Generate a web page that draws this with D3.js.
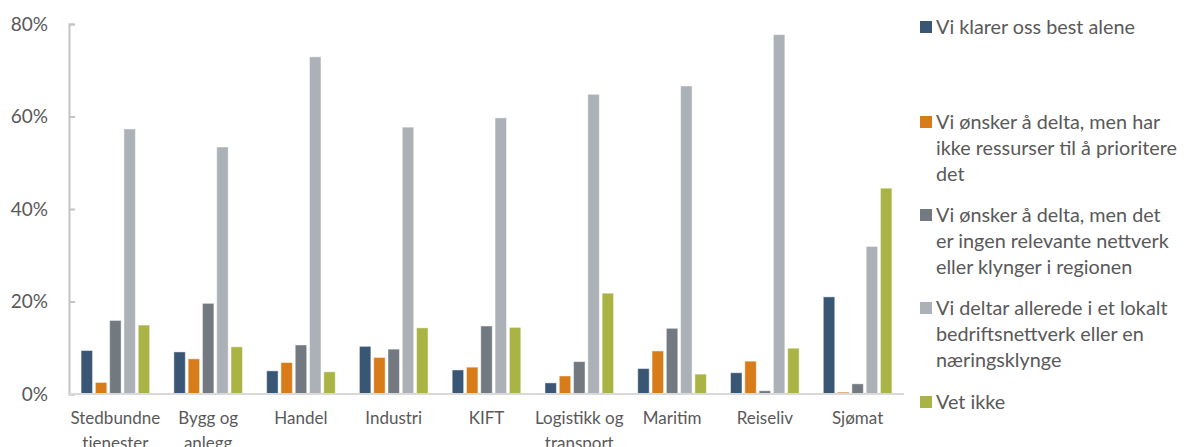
<!DOCTYPE html>
<html>
<head>
<meta charset="utf-8">
<script src="https://cdn.jsdelivr.net/npm/d3@7"></script>
<style>
  html, body { margin: 0; padding: 0; background: #fff; }
  svg { display: block; font-family: Lato, "Open Sans", sans-serif; }
</style>
</head>
<body>
<svg id="chart" width="1184" height="447"></svg>
<script>
// Sector labels (each entry is the list of wrapped lines)
const categories = [
  ["Stedbundne", "tjenester"],
  ["Bygg og", "anlegg"],
  ["Handel"],
  ["Industri"],
  ["KIFT"],
  ["Logistikk og", "transport"],
  ["Maritim"],
  ["Reiseliv"],
  ["Sjømat"]
];

// Answer alternatives, wrapped as in the legend
const seriesNames = [
  ["Vi klarer oss best alene"],
  ["Vi ønsker å delta, men har", "ikke ressurser til å prioritere", "det"],
  ["Vi ønsker å delta, men det", "er ingen relevante nettverk", "eller klynger i regionen"],
  ["Vi deltar allerede i et lokalt", "bedriftsnettverk eller en", "næringsklynge"],
  ["Vet ikke"]
];

const seriesColors = ["#3a5675", "#d87c1a", "#727981", "#abb1b7", "#a9b444"];

// Share of answers (%) per sector, one array per answer alternative
const aloneValues     = [9.4, 9.1, 5.0, 10.3, 5.2, 2.4, 5.5, 4.6, 21.0];
const noResources     = [2.5, 7.6, 6.8, 7.9, 5.8, 3.9, 9.3, 7.1, 0.4];
const noNetwork       = [15.9, 19.6, 10.6, 9.7, 14.7, 7.0, 14.2, 0.7, 2.2];
const alreadyMember   = [57.3, 53.4, 72.9, 57.7, 59.7, 64.8, 66.6, 77.7, 31.9];
const dontKnow        = [14.9, 10.2, 4.8, 14.3, 14.4, 21.8, 4.3, 9.9, 44.5];
const seriesValues = [aloneValues, noResources, noNetwork, alreadyMember, dontKnow];

const yTicks = [0, 20, 40, 60, 80];

const svg = d3.select("#chart");
const plotLeft = 69, plotRight = 904, plotTop = 24, plotBottom = 394;
const textColor = "#595959";

const y = d3.scaleLinear().domain([0, 80]).range([plotBottom, plotTop]);
const catIdx = d3.range(categories.length);
const x0 = d3.scaleBand().domain(catIdx).range([plotLeft, plotRight])
  .paddingInner(0.23).paddingOuter(0.115);
const x1 = d3.scaleBand().domain(d3.range(seriesValues.length))
  .range([0, x0.bandwidth()]).paddingInner(0.2).paddingOuter(0.1);

// Bars
const groups = svg.append("g").selectAll("g")
  .data(catIdx).join("g")
  .attr("transform", i => `translate(${x0(i)},0)`);

groups.selectAll("rect")
  .data(i => seriesValues.map((vals, s) => ({ s, v: vals[i] })))
  .join("rect")
  .attr("x", d => x1(d.s))
  .attr("width", x1.bandwidth())
  .attr("y", d => y(d.v))
  .attr("height", d => plotBottom - y(d.v))
  .attr("fill", d => seriesColors[d.s])
  .attr("stroke", "rgba(255,255,255,0.45)")
  .attr("stroke-width", 1);

// Y axis
const yAxis = d3.axisRight(y).tickValues(yTicks).tickSize(6).tickFormat("");
const yg = svg.append("g").attr("transform", `translate(${plotLeft},0)`).call(yAxis);
yg.select(".domain").attr("stroke", "#c3c3c3").attr("stroke-width", 2);
yg.selectAll(".tick line").attr("stroke", "#c3c3c3").attr("stroke-width", 2);

svg.append("g").selectAll("text")
  .data(yTicks).join("text")
  .attr("x", 48).attr("y", d => y(d))
  .attr("dy", "0.35em")
  .attr("text-anchor", "end")
  .attr("fill", textColor)
  .attr("font-size", 19)
  .text(d => d + "%");

// X axis baseline
svg.append("line")
  .attr("x1", plotLeft - 1).attr("x2", plotRight)
  .attr("y1", plotBottom).attr("y2", plotBottom)
  .attr("stroke", "#d9d9d9").attr("stroke-width", 2);

// Category labels
const xl = svg.append("g").selectAll("text")
  .data(catIdx).join("text")
  .attr("text-anchor", "middle")
  .attr("fill", textColor)
  .attr("font-size", 17)
  .attr("transform", i => `translate(${x0(i) + x0.bandwidth() / 2},418)`);
xl.selectAll("tspan")
  .data(i => categories[i]).join("tspan")
  .attr("x", 0)
  .attr("y", (d, k) => k * 25)
  .attr("dy", "0.35em")
  .text(d => d);

// Legend
const legendY = [27, 122, 215, 308, 402];
const lg = svg.append("g").selectAll("g")
  .data(seriesNames).join("g")
  .attr("transform", (d, s) => `translate(920,${legendY[s]})`);
lg.append("rect")
  .attr("x", 0).attr("y", -6).attr("width", 12).attr("height", 12)
  .attr("fill", (d, s) => seriesColors[s]);
const lt = lg.append("text")
  .attr("fill", textColor)
  .attr("font-size", 19.8);
lt.selectAll("tspan")
  .data(d => d).join("tspan")
  .attr("x", 16)
  .attr("y", (d, k) => k * 26)
  .attr("dy", "0.35em")
  .text(d => d);
</script>
</body>
</html>
